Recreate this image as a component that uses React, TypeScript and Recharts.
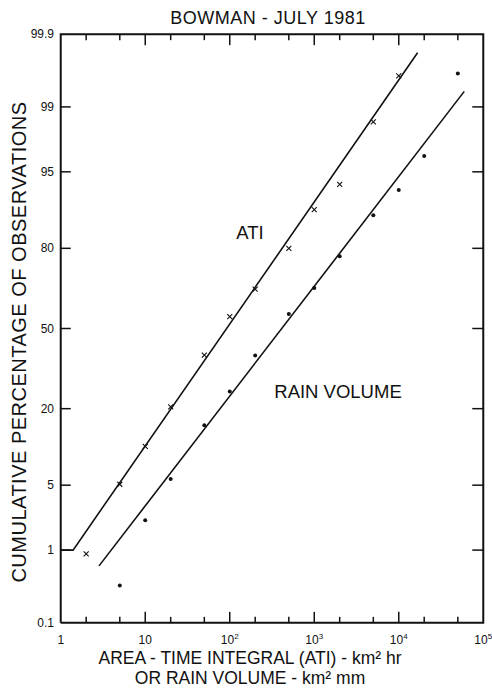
import React from 'react';
import { ComposedChart, Line, Scatter, XAxis, YAxis } from 'recharts';

// ATI observations (x markers)
const atiX = [2, 5, 10, 20, 50, 100, 200, 500, 1000, 2000, 5000, 10000];
const atiPct = [0.9, 5.1, 10.8, 20.5, 39, 55, 66, 80, 89.4, 93.5, 98.5, 99.6];

// rain volume observations (dots)
const rainX = [5, 10, 20, 50, 100, 200, 500, 1000, 2000, 5000, 10000, 20000, 50000];
const rainPct = [0.35, 2.2, 5.7, 15.5, 25.4, 38.8, 56, 66.5, 77.6, 88.3, 92.7, 96.5, 99.63];

// fitted lines
const atiFitX = [1, 1.4, 16700];
const atiFitPct = [1, 1, 99.81];
const rainFitX = [2.84, 59600];
const rainFitPct = [0.635, 99.36];

const xTicks = [1, 2, 5, 10, 20, 50, 100, 200, 500, 1000, 2000, 5000, 10000, 20000, 50000, 100000];
const yTickLabels = ['0.1', '1', '5', '20', '50', '80', '95', '99', '99.9'];

const X_MIN = 1;
const X_MAX = 100000;
const P_MIN = 0.1;
const P_MAX = 99.9;

const FONT = '"Liberation Sans", Arial, Helvetica, sans-serif';
const INK = '#111';

// inverse normal CDF (Acklam), percent in -> z out
function probit(pct: number): number {
  const p = pct / 100;
  const a = [-39.69683028665376, 220.9460984245205, -275.9285104469687, 138.357751867269, -30.66479806614716, 2.506628277459239];
  const b = [-54.47609879822406, 161.5858368580409, -155.6989798598866, 66.80131188771972, -13.28068155288572];
  const c = [-0.007784894002430293, -0.3223964580411365, -2.400758277161838, -2.549732539343734, 4.374664141464968, 2.938163982698783];
  const d = [0.007784695709041462, 0.3224671290700398, 2.445134137142996, 3.754408661907416];
  const pl = 0.02425;
  if (p < pl) {
    const q = Math.sqrt(-2 * Math.log(p));
    return (((((c[0] * q + c[1]) * q + c[2]) * q + c[3]) * q + c[4]) * q + c[5]) /
      ((((d[0] * q + d[1]) * q + d[2]) * q + d[3]) * q + 1);
  }
  if (p > 1 - pl) {
    const q = Math.sqrt(-2 * Math.log(1 - p));
    return -(((((c[0] * q + c[1]) * q + c[2]) * q + c[3]) * q + c[4]) * q + c[5]) /
      ((((d[0] * q + d[1]) * q + d[2]) * q + d[3]) * q + 1);
  }
  const q = p - 0.5;
  const r = q * q;
  return (((((a[0] * r + a[1]) * r + a[2]) * r + a[3]) * r + a[4]) * r + a[5]) * q /
    (((((b[0] * r + b[1]) * r + b[2]) * r + b[3]) * r + b[4]) * r + 1);
}

const rows = (xs: number[], ps: number[]) => xs.map((x, i) => ({ x, z: probit(ps[i]) }));
const atiRows = rows(atiX, atiPct);
const rainRows = rows(rainX, rainPct);
const atiFit = rows(atiFitX, atiFitPct);
const rainFit = rows(rainFitX, rainFitPct);

const yTicks = yTickLabels.map((l) => probit(parseFloat(l)));
const zMin = probit(P_MIN);
const zMax = probit(P_MAX);
// small padding so the frame sits just inside the plotting area
const yDomain = [zMin - 0.012, zMax + 0.012];
const xDomain = [X_MIN / 1.02, X_MAX * 1.02];

// plot frame and tick-mark anchors, built from the axis limits and tick values
const frame = rows([X_MIN, X_MAX, X_MAX, X_MIN, X_MIN], [P_MIN, P_MIN, P_MAX, P_MAX, P_MIN]);
const bottomMarks = xTicks.slice(1, -1).map((x) => ({ x, z: zMin }));
const topMarks = xTicks.slice(1, -1).map((x) => ({ x, z: zMax }));
const leftMarks = yTicks.slice(1, -1).map((z) => ({ x: X_MIN, z }));
const rightMarks = yTicks.slice(1, -1).map((z) => ({ x: X_MAX, z }));

const isDecade = (v: number) => Math.abs(Math.log10(v) - Math.round(Math.log10(v))) < 1e-6;

const xLabel = (v: number) => {
  const e = Math.round(Math.log10(v));
  if (e === 0) return <tspan>1</tspan>;
  if (e === 1) return <tspan>10</tspan>;
  return (
    <>
      <tspan>10</tspan>
      <tspan dy={-5} fontSize={8}>{e}</tspan>
    </>
  );
};

const BottomLabel = ({ x, y, payload }: any) =>
  isDecade(payload.value) ? (
    <text x={x} y={y + 20} textAnchor="middle" fontSize={12} fontFamily={FONT} fill={INK}>
      {xLabel(payload.value)}
    </text>
  ) : (
    <g />
  );

const LeftLabel = ({ x, y, payload }: any) => {
  const i = yTicks.findIndex((t) => Math.abs(t - payload.value) < 1e-6);
  return (
    <text x={x - 6} y={y + 4} textAnchor="end" fontSize={12} fontFamily={FONT} fill={INK}>
      {yTickLabels[i]}
    </text>
  );
};

const tickLen = (p: any) => (isDecade(p?.x ?? 10) ? 11 : 6);
const UpMark = ({ cx, cy, payload }: any) => (
  <path d={`M${cx},${cy}V${cy - tickLen(payload)}`} stroke={INK} strokeWidth={1.5} fill="none" />
);
const DownMark = ({ cx, cy, payload }: any) => (
  <path d={`M${cx},${cy}V${cy + tickLen(payload)}`} stroke={INK} strokeWidth={1.5} fill="none" />
);
const RightMark = ({ cx, cy }: any) => (
  <path d={`M${cx},${cy}H${cx + 10}`} stroke={INK} strokeWidth={1.5} fill="none" />
);
const LeftMark = ({ cx, cy }: any) => (
  <path d={`M${cx},${cy}H${cx - 11}`} stroke={INK} strokeWidth={1.5} fill="none" />
);

const Cross = ({ cx, cy }: any) => (
  <path d={`M${cx - 2.5},${cy - 2.5}L${cx + 2.5},${cy + 2.5}M${cx - 2.5},${cy + 2.5}L${cx + 2.5},${cy - 2.5}`} stroke={INK} strokeWidth={1.1} />
);

const Pt = ({ cx, cy }: any) => <circle cx={cx} cy={cy} r={2} fill={INK} />;

const Txt = ({ x, y, size, children, rotate, spacing }: any) => (
  <div
    style={{
      position: 'absolute',
      left: x,
      top: y,
      transform: `translate(-50%, -50%)${rotate ? ' rotate(-90deg)' : ''}`,
      fontFamily: FONT,
      fontSize: size,
      lineHeight: 1,
      whiteSpace: 'nowrap',
      color: INK,
      letterSpacing: spacing || 0,
      pointerEvents: 'none',
    }}
  >
    {children}
  </div>
);

export default function App() {
  return (
    <div style={{ position: 'absolute', left: 0, top: 0, width: 492, height: 688, background: '#fff' }}>
      <ComposedChart width={492} height={688} margin={{ top: 33, right: 8, bottom: 0, left: 0 }}>
        <XAxis
          dataKey="x"
          type="number"
          scale="log"
          domain={xDomain}
          ticks={xTicks}
          height={64}
          tickSize={0}
          tickMargin={0}
          tick={<BottomLabel />}
          interval={0}
          axisLine={false}
          tickLine={false}
        />
        <YAxis
          dataKey="z"
          type="number"
          domain={yDomain}
          ticks={yTicks}
          width={60}
          tickSize={0}
          tickMargin={0}
          tick={<LeftLabel />}
          interval={0}
          axisLine={false}
          tickLine={false}
        />
        <Line data={frame} dataKey="z" stroke={INK} strokeWidth={2} dot={false} isAnimationActive={false} />
        <Scatter data={bottomMarks} dataKey="z" shape={<UpMark />} isAnimationActive={false} />
        <Scatter data={topMarks} dataKey="z" shape={<DownMark />} isAnimationActive={false} />
        <Scatter data={leftMarks} dataKey="z" shape={<RightMark />} isAnimationActive={false} />
        <Scatter data={rightMarks} dataKey="z" shape={<LeftMark />} isAnimationActive={false} />
        <Line data={atiFit} dataKey="z" stroke={INK} strokeWidth={1.6} dot={false} isAnimationActive={false} />
        <Line data={rainFit} dataKey="z" stroke={INK} strokeWidth={1.6} dot={false} isAnimationActive={false} />
        <Scatter data={atiRows} dataKey="z" shape={<Cross />} isAnimationActive={false} />
        <Scatter data={rainRows} dataKey="z" shape={<Pt />} isAnimationActive={false} />
      </ComposedChart>
      <Txt x={268} y={18} size={18} spacing={0.5}>BOWMAN - JULY 1981</Txt>
      <Txt x={19} y={342} size={20} spacing={0.5} rotate>CUMULATIVE PERCENTAGE OF OBSERVATIONS</Txt>
      <Txt x={250} y={659} size={17.5}>AREA - TIME INTEGRAL (ATI) - km² hr</Txt>
      <Txt x={250} y={679} size={17.5}>OR RAIN VOLUME - km² mm</Txt>
      <Txt x={250} y={233} size={18.5}>ATI</Txt>
      <Txt x={338} y={392} size={18.5}>RAIN VOLUME</Txt>
    </div>
  );
}
